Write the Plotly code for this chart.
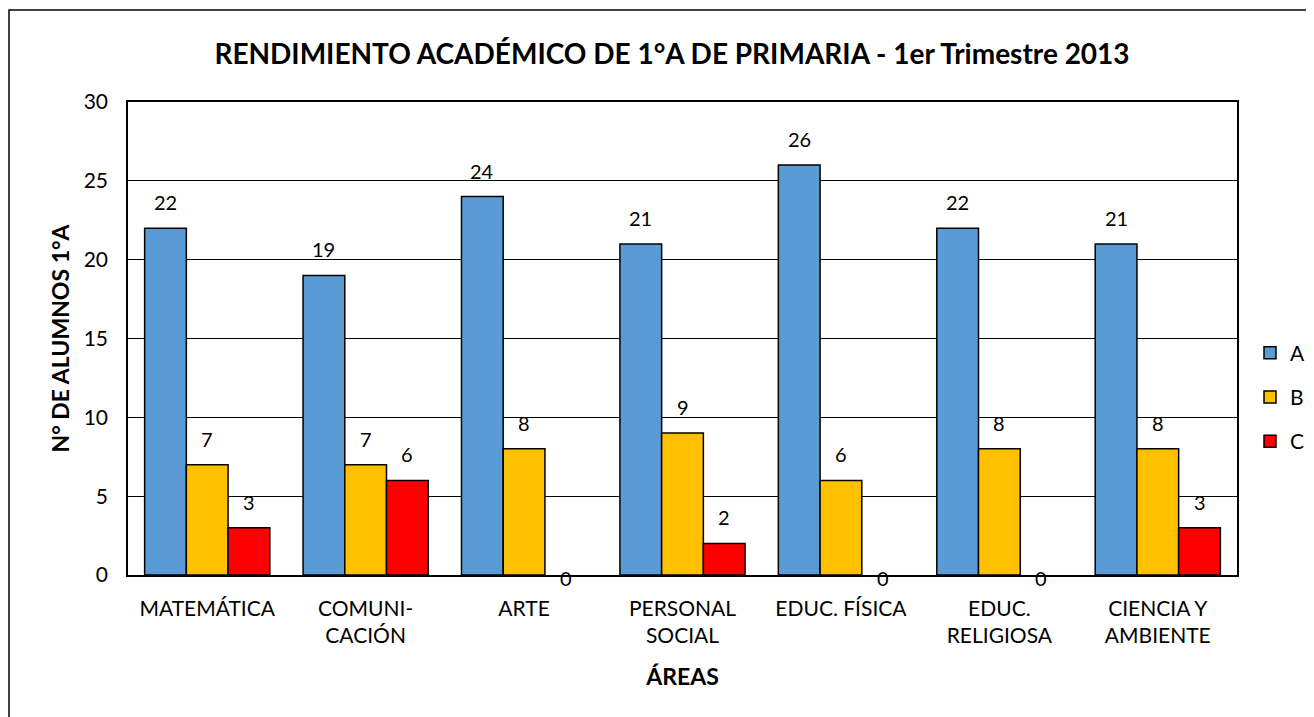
import plotly.graph_objects as go

areas = ["MATEMÁTICA", "COMUNI-<br>CACIÓN", "ARTE", "PERSONAL<br>SOCIAL",
         "EDUC. FÍSICA", "EDUC.<br>RELIGIOSA", "CIENCIA Y<br>AMBIENTE"]
serie_a = [22, 19, 24, 21, 26, 22, 21]
serie_b = [7, 7, 8, 9, 6, 8, 8]
serie_c = [3, 6, 0, 2, 0, 0, 3]
series = [("A", serie_a, "#5B9BD5"), ("B", serie_b, "#FFC000"), ("C", serie_c, "#FF0000")]

# page body has an 8px default margin; compensate
OFF = 8
W, H = 1314 - OFF, 717 - OFF
ML, MR, MT, MB = 128 - OFF, 77, 102 - OFF, 142
BARGAP = 0.21
FONT = "Lato, 'Open Sans', sans-serif"

fig = go.Figure()
for name, vals, col in series:
    fig.add_trace(go.Bar(
        x=areas, y=vals, name=name, legendgroup=name,
        marker=dict(color=col,
                    line=dict(color="black", width=[1.5 if v > 0 else 0 for v in vals])),
    ))

plot_w = W - ML - MR
plot_h = H - MT - MB
cat_w = plot_w / len(areas)
bar_w = cat_w * (1 - BARGAP) / len(series)
annotations = []
for si, (name, vals, col) in enumerate(series):
    shift = (si - (len(series) - 1) / 2) * bar_w
    for cat, v in zip(areas, vals):
        annotations.append(dict(
            x=cat, y=v, xref="x", yref="y", text=str(v), showarrow=False,
            xshift=shift, yshift=(26 if v > 0 else -3), yanchor="middle",
            font=dict(family=FONT, size=20, color="black"),
        ))

fig.update_layout(
    width=W, height=H,
    margin=dict(l=ML, r=MR, t=MT, b=MB, autoexpand=False),
    paper_bgcolor="white", plot_bgcolor="white",
    barmode="group", bargap=BARGAP, bargroupgap=0,
    font=dict(family=FONT, size=21, color="black"),
    title=dict(text="<b>RENDIMIENTO ACADÉMICO DE 1°A DE PRIMARIA - 1er Trimestre 2013</b>",
               x=(672 - OFF) / W, xanchor="center", y=1 - (54 - OFF) / H, yanchor="middle",
               font=dict(family=FONT, size=28, color="black")),
    showlegend=True,
    legend=dict(x=(1250 - 128) / plot_w, y=(575 - 397) / plot_h, xanchor="left", yanchor="middle",
                font=dict(family=FONT, size=21), tracegroupgap=14,
                itemwidth=30, bgcolor="rgba(0,0,0,0)"),
    annotations=annotations,
    shapes=[dict(type="rect", xref="paper", yref="paper",
                 x0=(9 - 128) / plot_w, x1=1.2,
                 y0=-0.4, y1=(575 - 10) / plot_h,
                 line=dict(color="black", width=1.5), fillcolor="rgba(0,0,0,0)",
                 layer="below")],
)
fig.update_xaxes(
    showline=True, linecolor="black", linewidth=1.5, mirror=True,
    ticks="", tickfont=dict(size=21), ticklabelstandoff=14,
    title=dict(text="<b>ÁREAS</b>", font=dict(size=23), standoff=23),
)
fig.update_yaxes(
    range=[0, 30], dtick=5, showline=True, linecolor="black", linewidth=1.5, mirror=True,
    showgrid=True, gridcolor="black", gridwidth=1, zeroline=False,
    ticks="", tickfont=dict(size=21), ticklabelstandoff=14,
    title=dict(text="<b>N° DE ALUMNOS 1°A</b>", font=dict(size=23), standoff=8),
)

fig.write_html("out.html")
